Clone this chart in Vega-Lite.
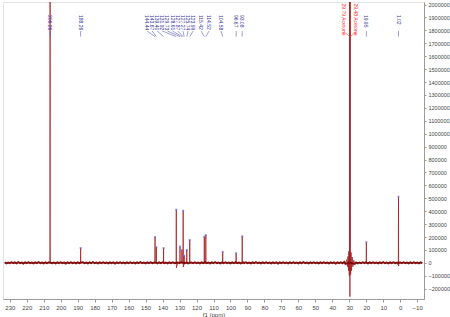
{
  "$schema": "https://vega.github.io/schema/vega-lite/v6.json",
  "width": 450,
  "height": 317,
  "autosize": {"type": "fit", "contains": "padding"},
  "padding": {"left": 3, "top": 2, "right": 0, "bottom": 0},
  "background": "white",
  "config": {
    "view": {"stroke": "#e4e4e4"},
    "font": "Liberation Sans",
    "axis": {"grid": false, "labelFont": "Liberation Sans", "labelColor": "#444", "domainColor": "#9a9a9a", "tickColor": "#9a9a9a", "titleFont": "Liberation Sans", "titleColor": "#444", "titleFontWeight": "normal", "labelOverlap": false},
    "axisQuantitative": {"labelOverlap": false},
    "axisX": {"labelOverlap": false},
    "axisY": {"labelOverlap": false}
  },
  "datasets": {
    "spectrum": [
      {"ppm": 233, "i": 3000}, {"ppm": 232, "i": -4000}, {"ppm": 231, "i": 2000}, {"ppm": 230, "i": -3000}, {"ppm": 229, "i": 4000}, {"ppm": 228, "i": -2000}, {"ppm": 227, "i": 3000},
      {"ppm": 226, "i": -4000}, {"ppm": 225, "i": 5000}, {"ppm": 224, "i": -3000}, {"ppm": 223, "i": 2000}, {"ppm": 222, "i": -5000}, {"ppm": 221, "i": 3000}, {"ppm": 220, "i": -2000},
      {"ppm": 219, "i": 4000}, {"ppm": 218, "i": -3000}, {"ppm": 217, "i": 2000}, {"ppm": 216, "i": -4000}, {"ppm": 215, "i": 3000}, {"ppm": 214, "i": -2000}, {"ppm": 213, "i": 5000},
      {"ppm": 212, "i": -3000}, {"ppm": 211, "i": 2000}, {"ppm": 210, "i": -4000}, {"ppm": 209, "i": 3000}, {"ppm": 208, "i": -2000}, {"ppm": 207, "i": 4000},
      {"ppm": 206.36, "i": 0}, {"ppm": 206.26, "i": 2100000}, {"ppm": 206.16, "i": 0},
      {"ppm": 205, "i": -3000}, {"ppm": 204, "i": 2000}, {"ppm": 203, "i": -4000}, {"ppm": 202, "i": 3000}, {"ppm": 201, "i": -2000}, {"ppm": 200, "i": 4000}, {"ppm": 199, "i": -3000},
      {"ppm": 198, "i": 2000}, {"ppm": 197, "i": -5000}, {"ppm": 196, "i": 3000}, {"ppm": 195, "i": -2000}, {"ppm": 194, "i": 4000}, {"ppm": 193, "i": -3000}, {"ppm": 192, "i": 2000},
      {"ppm": 191, "i": -4000}, {"ppm": 190, "i": 3000}, {"ppm": 189, "i": -2000},
      {"ppm": 188.34, "i": 0}, {"ppm": 188.26, "i": 115000}, {"ppm": 188.18, "i": 0},
      {"ppm": 187, "i": 4000}, {"ppm": 186, "i": -3000}, {"ppm": 185, "i": 2000}, {"ppm": 184, "i": -4000}, {"ppm": 183, "i": 3000}, {"ppm": 182, "i": -2000}, {"ppm": 181, "i": 5000},
      {"ppm": 180, "i": -3000}, {"ppm": 179, "i": 2000}, {"ppm": 178, "i": -4000}, {"ppm": 177, "i": 3000}, {"ppm": 176, "i": -2000}, {"ppm": 175, "i": 4000}, {"ppm": 174, "i": -3000},
      {"ppm": 173, "i": 2000}, {"ppm": 172, "i": -4000}, {"ppm": 171, "i": 3000}, {"ppm": 170, "i": -2000}, {"ppm": 169, "i": 4000}, {"ppm": 168, "i": -5000}, {"ppm": 167, "i": 3000},
      {"ppm": 166, "i": -2000}, {"ppm": 165, "i": 4000}, {"ppm": 164, "i": -3000}, {"ppm": 163, "i": 2000}, {"ppm": 162, "i": -4000}, {"ppm": 161, "i": 3000}, {"ppm": 160, "i": -2000},
      {"ppm": 159, "i": 4000}, {"ppm": 158, "i": -3000}, {"ppm": 157, "i": 2000}, {"ppm": 156, "i": -4000}, {"ppm": 155, "i": 3000}, {"ppm": 154, "i": -2000}, {"ppm": 153, "i": 5000},
      {"ppm": 152, "i": -3000}, {"ppm": 151, "i": 2000}, {"ppm": 150, "i": -4000}, {"ppm": 149, "i": 3000}, {"ppm": 148, "i": -2000}, {"ppm": 147, "i": 4000}, {"ppm": 146, "i": -3000},
      {"ppm": 145, "i": 2000},
      {"ppm": 144.52, "i": 0}, {"ppm": 144.44, "i": 200000}, {"ppm": 144.36, "i": 0},
      {"ppm": 143.75, "i": 0}, {"ppm": 143.67, "i": 123000}, {"ppm": 143.59, "i": 0},
      {"ppm": 143, "i": -4000}, {"ppm": 142, "i": 3000}, {"ppm": 141, "i": -2000}, {"ppm": 140, "i": 4000},
      {"ppm": 139.48, "i": 0}, {"ppm": 139.40, "i": 115000}, {"ppm": 139.32, "i": 0},
      {"ppm": 139, "i": -3000}, {"ppm": 138, "i": 2000}, {"ppm": 137, "i": -4000}, {"ppm": 136, "i": 3000}, {"ppm": 135, "i": -2000}, {"ppm": 134, "i": 4000}, {"ppm": 133, "i": -3000},
      {"ppm": 132.0, "i": 0}, {"ppm": 131.92, "i": 412000}, {"ppm": 131.84, "i": -38000},
      {"ppm": 131, "i": 3000}, {"ppm": 130, "i": -2000},
      {"ppm": 129.81, "i": 0}, {"ppm": 129.73, "i": 126000}, {"ppm": 129.65, "i": 0},
      {"ppm": 129, "i": 4000},
      {"ppm": 128.69, "i": 0}, {"ppm": 128.61, "i": 100000}, {"ppm": 128.53, "i": 0},
      {"ppm": 127.95, "i": 0}, {"ppm": 127.87, "i": 404000}, {"ppm": 127.79, "i": -32000},
      {"ppm": 127.35, "i": 0}, {"ppm": 127.27, "i": 56000}, {"ppm": 127.19, "i": 0},
      {"ppm": 127, "i": -3000}, {"ppm": 126, "i": 2000},
      {"ppm": 125.82, "i": 0}, {"ppm": 125.74, "i": 100000}, {"ppm": 125.66, "i": 0},
      {"ppm": 125, "i": -4000},
      {"ppm": 124.07, "i": 0}, {"ppm": 123.99, "i": 178000}, {"ppm": 123.91, "i": 0},
      {"ppm": 123, "i": 3000}, {"ppm": 122, "i": -2000}, {"ppm": 121, "i": 4000}, {"ppm": 120, "i": -3000}, {"ppm": 119, "i": 2000}, {"ppm": 118, "i": -4000}, {"ppm": 117, "i": 3000}, {"ppm": 116, "i": -2000},
      {"ppm": 115.5, "i": 0}, {"ppm": 115.42, "i": 203000}, {"ppm": 115.34, "i": 0},
      {"ppm": 115, "i": 4000},
      {"ppm": 114.6, "i": 0}, {"ppm": 114.52, "i": 216000}, {"ppm": 114.44, "i": 0},
      {"ppm": 114, "i": -3000}, {"ppm": 113, "i": 2000}, {"ppm": 112, "i": -4000}, {"ppm": 111, "i": 3000}, {"ppm": 110, "i": -2000}, {"ppm": 109, "i": 5000}, {"ppm": 108, "i": -3000},
      {"ppm": 107, "i": 2000}, {"ppm": 106, "i": -4000}, {"ppm": 105, "i": 3000},
      {"ppm": 104.66, "i": 0}, {"ppm": 104.58, "i": 85000}, {"ppm": 104.5, "i": 0},
      {"ppm": 104, "i": -2000}, {"ppm": 103, "i": 4000}, {"ppm": 102, "i": -3000}, {"ppm": 101, "i": 2000}, {"ppm": 100, "i": -4000}, {"ppm": 99, "i": 3000}, {"ppm": 98, "i": -2000}, {"ppm": 97, "i": 4000},
      {"ppm": 96.75, "i": 0}, {"ppm": 96.67, "i": 75000}, {"ppm": 96.59, "i": 0},
      {"ppm": 96, "i": -3000}, {"ppm": 95, "i": 2000}, {"ppm": 94, "i": -4000},
      {"ppm": 93.16, "i": 0}, {"ppm": 93.08, "i": 206000}, {"ppm": 93.0, "i": 0},
      {"ppm": 92.5, "i": 3000}, {"ppm": 92, "i": -2000}, {"ppm": 91, "i": 4000}, {"ppm": 90, "i": -3000}, {"ppm": 89, "i": 2000}, {"ppm": 88, "i": -4000}, {"ppm": 87, "i": 3000},
      {"ppm": 86, "i": -2000}, {"ppm": 85, "i": 5000}, {"ppm": 84, "i": -3000}, {"ppm": 83, "i": 2000}, {"ppm": 82, "i": -4000}, {"ppm": 81, "i": 3000}, {"ppm": 80, "i": -2000},
      {"ppm": 79, "i": 4000}, {"ppm": 78, "i": -3000}, {"ppm": 77, "i": 2000}, {"ppm": 76, "i": -4000}, {"ppm": 75, "i": 3000}, {"ppm": 74, "i": -2000}, {"ppm": 73, "i": 4000},
      {"ppm": 72, "i": -5000}, {"ppm": 71, "i": 3000}, {"ppm": 70, "i": -2000}, {"ppm": 69, "i": 4000}, {"ppm": 68, "i": -3000}, {"ppm": 67, "i": 2000}, {"ppm": 66, "i": -4000},
      {"ppm": 65, "i": 3000}, {"ppm": 64, "i": -2000}, {"ppm": 63, "i": 4000}, {"ppm": 62, "i": -3000}, {"ppm": 61, "i": 2000}, {"ppm": 60, "i": -4000}, {"ppm": 59, "i": 3000},
      {"ppm": 58, "i": -2000}, {"ppm": 57, "i": 5000}, {"ppm": 56, "i": -3000}, {"ppm": 55, "i": 2000}, {"ppm": 54, "i": -4000}, {"ppm": 53, "i": 3000}, {"ppm": 52, "i": -2000},
      {"ppm": 51, "i": 4000}, {"ppm": 50, "i": -3000}, {"ppm": 49, "i": 2000}, {"ppm": 48, "i": -4000}, {"ppm": 47, "i": 3000}, {"ppm": 46, "i": -2000}, {"ppm": 45, "i": 4000},
      {"ppm": 44, "i": -3000}, {"ppm": 43, "i": 2000}, {"ppm": 42, "i": -4000}, {"ppm": 41, "i": 3000}, {"ppm": 40, "i": -2000}, {"ppm": 39, "i": 4000}, {"ppm": 38, "i": -5000},
      {"ppm": 37, "i": 3000}, {"ppm": 36, "i": -2000}, {"ppm": 35, "i": 4000}, {"ppm": 34, "i": -4000}, {"ppm": 33, "i": 6000}, {"ppm": 32.3, "i": -8000},
      {"ppm": 31.5, "i": 25000}, {"ppm": 31.1, "i": -30000}, {"ppm": 30.8, "i": 50000}, {"ppm": 30.5, "i": -60000}, {"ppm": 30.3, "i": 90000}, {"ppm": 30.0, "i": -100000},
      {"ppm": 29.87, "i": 0}, {"ppm": 29.79, "i": 2100000}, {"ppm": 29.64, "i": -262000},
      {"ppm": 29.48, "i": 2100000}, {"ppm": 29.4, "i": 0},
      {"ppm": 29.2, "i": -90000}, {"ppm": 28.95, "i": 80000}, {"ppm": 28.7, "i": -60000}, {"ppm": 28.3, "i": 45000}, {"ppm": 27.9, "i": -30000}, {"ppm": 27.4, "i": 20000}, {"ppm": 26.8, "i": -8000},
      {"ppm": 26, "i": 3000}, {"ppm": 25, "i": -4000}, {"ppm": 24, "i": 2000}, {"ppm": 23, "i": -3000}, {"ppm": 22, "i": 4000}, {"ppm": 21, "i": -2000}, {"ppm": 20.5, "i": 3000},
      {"ppm": 20.03, "i": 0}, {"ppm": 19.95, "i": 160000}, {"ppm": 19.87, "i": 0},
      {"ppm": 19, "i": -4000}, {"ppm": 18, "i": 3000}, {"ppm": 17, "i": -2000}, {"ppm": 16, "i": 4000}, {"ppm": 15, "i": -3000}, {"ppm": 14, "i": 2000}, {"ppm": 13, "i": -4000},
      {"ppm": 12, "i": 3000}, {"ppm": 11, "i": -2000}, {"ppm": 10, "i": 5000}, {"ppm": 9, "i": -3000}, {"ppm": 8, "i": 2000}, {"ppm": 7, "i": -4000}, {"ppm": 6, "i": 3000},
      {"ppm": 5, "i": -2000}, {"ppm": 4, "i": 4000}, {"ppm": 3, "i": -3000}, {"ppm": 2, "i": 2000}, {"ppm": 1.5, "i": -4000},
      {"ppm": 1.12, "i": 0}, {"ppm": 1.02, "i": 512000}, {"ppm": 0.95, "i": -25000}, {"ppm": 0.88, "i": 0},
      {"ppm": 0, "i": 3000}, {"ppm": -1, "i": -2000}, {"ppm": -2, "i": 4000}, {"ppm": -3, "i": -3000}, {"ppm": -4, "i": 2000}, {"ppm": -5, "i": -4000}, {"ppm": -6, "i": 3000},
      {"ppm": -7, "i": -2000}, {"ppm": -8, "i": 4000}, {"ppm": -9, "i": -3000}, {"ppm": -10, "i": 2000}, {"ppm": -11, "i": -4000}, {"ppm": -12, "i": 3000}, {"ppm": -13, "i": -2000}
    ],
    "peaks": [
      {"ppm": 206.26, "i": 2100000, "label": "206.26", "label_at": 206.26, "kind": "peak"},
      {"ppm": 188.26, "i": 115000, "label": "188.26", "label_at": 188.26, "kind": "peak"},
      {"ppm": 144.44, "i": 200000, "label": "144.44", "label_at": 149.1, "kind": "peak"},
      {"ppm": 143.67, "i": 123000, "label": "143.67", "label_at": 146.1, "kind": "peak"},
      {"ppm": 139.40, "i": 115000, "label": "139.40", "label_at": 143.1, "kind": "peak"},
      {"ppm": 131.92, "i": 412000, "label": "131.92", "label_at": 140.1, "kind": "peak"},
      {"ppm": 129.73, "i": 126000, "label": "129.73", "label_at": 137.1, "kind": "peak"},
      {"ppm": 128.61, "i": 100000, "label": "128.61", "label_at": 134.1, "kind": "peak"},
      {"ppm": 127.87, "i": 404000, "label": "127.87", "label_at": 131.1, "kind": "peak"},
      {"ppm": 127.27, "i": 56000, "label": "127.27", "label_at": 128.0, "kind": "peak"},
      {"ppm": 125.74, "i": 100000, "label": "125.74", "label_at": 125.0, "kind": "peak"},
      {"ppm": 123.99, "i": 178000, "label": "123.99", "label_at": 122.0, "kind": "peak"},
      {"ppm": 115.42, "i": 203000, "label": "115.42", "label_at": 117.3, "kind": "peak"},
      {"ppm": 114.52, "i": 216000, "label": "114.52", "label_at": 112.6, "kind": "peak"},
      {"ppm": 104.58, "i": 85000, "label": "104.58", "label_at": 105.6, "kind": "peak"},
      {"ppm": 96.67, "i": 75000, "label": "96.67", "label_at": 96.67, "kind": "peak"},
      {"ppm": 93.08, "i": 206000, "label": "93.08", "label_at": 93.08, "kind": "peak"},
      {"ppm": 29.79, "i": 2100000, "label": "29.79 Acetone", "label_at": 33.1, "kind": "solvent"},
      {"ppm": 29.48, "i": 2100000, "label": "29.48 Acetone", "label_at": 26.0, "kind": "solvent"},
      {"ppm": 19.95, "i": 160000, "label": "19.95", "label_at": 19.95, "kind": "peak"},
      {"ppm": 1.02, "i": 512000, "label": "1.02", "label_at": 1.02, "kind": "peak"}
    ]
  },
  "encoding": {
    "x": {"field": "ppm", "type": "quantitative", "title": "f1 (ppm)",
      "scale": {"domain": [-14, 234], "reverse": true, "nice": false, "zero": false},
      "axis": {"values": [230, 220, 210, 200, 190, 180, 170, 160, 150, 140, 130, 120, 110, 100, 90, 80, 70, 60, 50, 40, 30, 20, 10, 0, -10],
        "labelOverlap": false, "labelFontSize": 6, "titleFontSize": 6, "tickSize": 3, "labelPadding": 2, "titlePadding": 1, "labelFlush": false}},
    "y": {"field": "i", "type": "quantitative", "title": null,
      "scale": {"domain": [-280000, 2020000], "nice": false, "zero": false},
      "axis": {"orient": "right", "format": "d", "labelOverlap": false, "labelFontSize": 5.5, "tickSize": 2, "labelPadding": 2,
        "values": [-200000, -100000, 0, 100000, 200000, 300000, 400000, 500000, 600000, 700000, 800000, 900000, 1000000, 1100000, 1200000, 1300000, 1400000, 1500000, 1600000, 1700000, 1800000, 1900000, 2000000]}}
  },
  "layer": [
    {
      "data": {"name": "spectrum"},
      "mark": {"type": "line", "color": "#a01818", "strokeWidth": 1, "clip": true, "interpolate": "linear", "opacity": 0.75}
    },
    {
      "data": {"name": "spectrum"},
      "mark": {"type": "line", "color": "#7a0000", "strokeWidth": 2, "clip": true, "opacity": 0.9},
      "transform": [{"filter": "datum.i > -15000 && datum.i < 15000"}]
    },
    {
      "data": {"name": "peaks"},
      "mark": {"type": "point", "shape": "square", "filled": true, "size": 4, "color": "#6f6fd8", "opacity": 0.7, "clip": true}
    },
    {
      "data": {"name": "peaks"},
      "transform": [{"filter": "datum.kind == 'peak'"}],
      "mark": {"type": "rule", "color": "#5a5ab8", "strokeWidth": 0.6},
      "encoding": {
        "x": {"field": "label_at", "type": "quantitative"},
        "x2": {"field": "ppm"},
        "y": {"datum": 1795000},
        "y2": {"datum": 1752000}
      }
    },
    {
      "data": {"name": "peaks"},
      "transform": [{"filter": "datum.kind == 'solvent'"}],
      "mark": {"type": "rule", "color": "#ff4040", "strokeWidth": 0.6},
      "encoding": {
        "x": {"field": "label_at", "type": "quantitative"},
        "x2": {"field": "ppm"},
        "y": {"datum": 1790000},
        "y2": {"datum": 1752000}
      }
    },
    {
      "data": {"name": "peaks"},
      "transform": [{"filter": "datum.kind == 'peak'"}],
      "mark": {"type": "text", "angle": 90, "align": "left", "baseline": "middle", "fontSize": 5, "color": "#3a3aa0", "font": "Liberation Sans"},
      "encoding": {
        "x": {"field": "label_at", "type": "quantitative"},
        "y": {"datum": 1920000},
        "text": {"field": "label"}
      }
    },
    {
      "data": {"name": "peaks"},
      "transform": [{"filter": "datum.kind == 'solvent'"}],
      "mark": {"type": "text", "angle": 90, "align": "left", "baseline": "middle", "fontSize": 5, "color": "#ff2a2a", "font": "Liberation Sans"},
      "encoding": {
        "x": {"field": "label_at", "type": "quantitative"},
        "y": {"datum": 2008000},
        "text": {"field": "label"}
      }
    }
  ]
}
